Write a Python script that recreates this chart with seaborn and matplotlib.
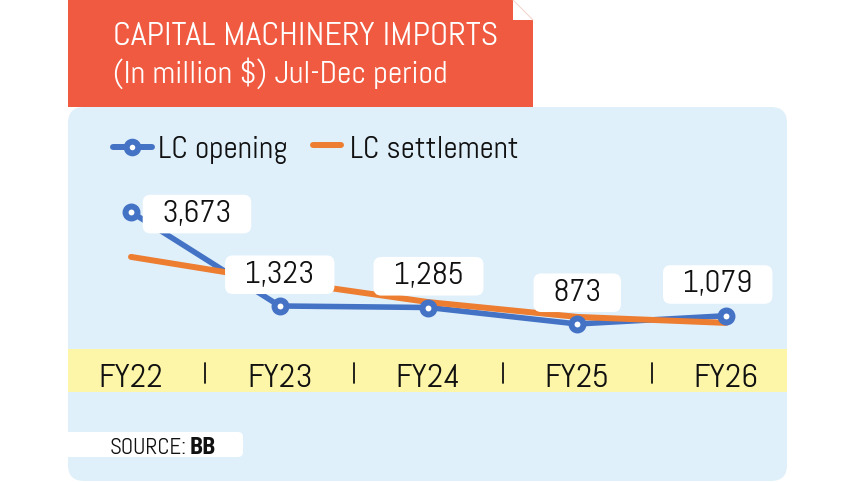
import numpy as np
import pandas as pd
import matplotlib
matplotlib.use("Agg")
import matplotlib.pyplot as plt
import seaborn as sns
from matplotlib.patches import FancyBboxPatch, Polygon, Rectangle

# ---------------- data ----------------
years = ["FY22", "FY23", "FY24", "FY25", "FY26"]
lc_opening = [3673, 1323, 1285, 873, 1079]
lc_settlement = [2550, 1950, 1420, 1050, 900]
series_names = ["LC opening", "LC settlement"]
title_line1 = "CAPITAL MACHINERY IMPORTS"
title_line2 = "(In million $) Jul-Dec period"
source_label = "SOURCE:"
source_name = "BB"

# ---------------- style ----------------
BLUE = "#4472C4"
ORANGE = "#ED7D31"
RED = "#EF5A40"
PANEL = "#DFF0FB"
BAND = "#FDF6A8"
INK = "#111111"

sns.set_style("white")
plt.rcParams['font.family'] = ['Abel', 'Roboto Condensed', 'DejaVu Sans']
BOLD_FAMILY = ['Roboto Condensed', 'DejaVu Sans']

W, H = 857, 482
fig = plt.figure(figsize=(W / 100, H / 100), dpi=100)
fig.patch.set_facecolor("white")

# background axes in pixel coordinates
bg = fig.add_axes([0, 0, 1, 1])
bg.set_xlim(0, W)
bg.set_ylim(H, 0)
bg.axis("off")

# light-blue panel
bg.add_patch(FancyBboxPatch((68, 107), 719, 374,
                            boxstyle="round,pad=0,rounding_size=16",
                            fc=PANEL, ec="none", zorder=0))
# yellow band
bg.add_patch(Rectangle((68, 349), 719, 43, fc=BAND, ec="none", zorder=1))

# header box with notch
bg.add_patch(Polygon([(68, 0), (513, 0), (513, 20), (533, 20), (533, 107), (68, 107)],
                     closed=True, fc=RED, ec="none", zorder=2))
bg.plot([513, 533], [0, 20], color="#f3d6cf", lw=0.8, zorder=3)
bg.text(113, 45, title_line1, color="white", fontsize=24.5, va="baseline", zorder=4)
bg.text(113, 83, title_line2, color="white", fontsize=23, va="baseline", zorder=4)

# legend
bg.plot([113, 152], [147, 147], color=BLUE, lw=4.3, solid_capstyle="round", zorder=3)
bg.scatter([132], [147], s=70, c="white", edgecolors=BLUE, linewidths=4.3, zorder=4)
bg.text(158, 158, series_names[0], fontsize=22.6, va="baseline", color=INK, zorder=4)
bg.plot([313, 341], [145, 145], color=ORANGE, lw=4.3, solid_capstyle="round", zorder=3)
bg.text(350, 158, series_names[1], fontsize=22.4, va="baseline", color=INK, zorder=4)

# source box
bg.add_patch(FancyBboxPatch((60, 432), 183, 25,
                            boxstyle="round,pad=0,rounding_size=5",
                            fc="white", ec="none", zorder=2))
bg.text(187, 454, source_label, fontsize=16.5, ha="right", va="baseline", color=INK, zorder=3)
bg.text(190, 454, source_name, fontsize=17, fontweight="bold", family=BOLD_FAMILY,
        ha="left", va="baseline", color=INK, zorder=3)

# ---------------- data axes ----------------
px_top, px_bot = 107, 480
ax = fig.add_axes([68 / W, (H - px_bot) / H, 719 / W, (px_bot - px_top) / H])
ax.patch.set_alpha(0)

df = pd.DataFrame({
    "year": years * 2,
    "value": lc_opening + lc_settlement,
    "series": [series_names[0]] * len(years) + [series_names[1]] * len(years),
})
sns.lineplot(data=df, x="year", y="value", hue="series", palette=[BLUE, ORANGE],
             linewidth=4, legend=False, sort=False, ax=ax)
for ln, lw in zip(ax.lines, [4.0, 4.3]):
    ln.set_linewidth(lw)
    ln.set_solid_capstyle("round")
    ln.set_solid_joinstyle("round")
    ln.set_zorder(2)

sns.scatterplot(x=years, y=lc_opening, s=74, color="white", edgecolor=BLUE,
                linewidth=4.3, ax=ax, zorder=4, legend=False)

# y mapping: pixel = 358.9 - 0.04 * value
ax.set_ylim((358.9 - px_bot) / 0.04, (358.9 - px_top) / 0.04)
ax.set_xlim((68 - 131) / 148.75, (787 - 131) / 148.75)
ax.axis("off")

n = len(lc_opening)
for i, v in enumerate(lc_opening):
    if i == 0:
        off = (47.5, -1.5)
    elif i == n - 1:
        off = (-6, 22.5)
    else:
        off = (0, 22.5)
    ax.annotate(f"  {v:,}  ", xy=(i, v), xytext=off, textcoords="offset points",
                ha="center", va="center", fontsize=22.5, color=INK,
                bbox=dict(boxstyle="round,pad=0.17,rounding_size=0.25", fc="white", ec="none"),
                zorder=5)

xt = ax.get_xaxis_transform()
base_frac = (px_bot - 387) / (px_bot - px_top)
for i, yr in enumerate(years):
    ax.text(i, base_frac, yr, transform=xt, ha="center", va="baseline",
            fontsize=24, color=INK, zorder=5)
for i in range(len(years) - 1):
    ax.plot([i + 0.5, i + 0.5],
            [(px_bot - 383) / (px_bot - px_top), (px_bot - 363) / (px_bot - px_top)],
            transform=xt, color=INK, lw=1.3, zorder=5)

fig.savefig("out.png", dpi=100, facecolor="white")
